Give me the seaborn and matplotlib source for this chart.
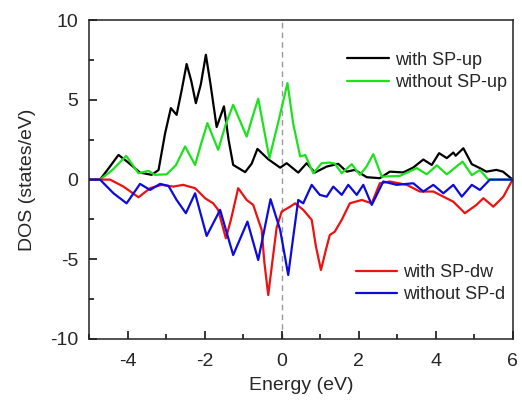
import numpy as np
import pandas as pd
import seaborn as sns
import matplotlib
matplotlib.use("Agg")
import matplotlib.pyplot as plt
from matplotlib.ticker import MultipleLocator

# DOS curves
up_with_e = [-5, -4.72, -4.5, -4.24, -4.0, -3.68, -3.38, -3.2, -3.03, -2.88, -2.73, -2.6, -2.47,
             -2.35, -2.23, -2.1, -1.97, -1.85, -1.69, -1.5, -1.38, -1.26, -0.95, -0.78, -0.63,
             -0.35, -0.04, 0.13, 0.43, 0.65, 0.86, 1.17, 1.47, 1.69, 1.9, 2.21, 2.55, 2.81,
             3.16, 3.42, 3.68, 3.9, 4.09, 4.29, 4.46, 4.52, 4.72, 4.94, 5.15, 5.32, 5.58, 5.75, 6.0]
up_with = [0, 0, 0.7, 1.55, 1.1, 0.44, 0.3, 0.6, 2.9, 4.49, 4.07, 5.6, 7.26,
           6.2, 4.8, 6.0, 7.84, 6.0, 3.3, 4.6, 2.5, 0.92, 0.47, 1.0, 1.93,
           1.28, 0.75, 1.03, 0.44, 1.03, 0.44, 0.82, 0.99, 0.5, 0.61, 0.15, 0.09, 0.5,
           0.45, 0.76, 1.26, 0.92, 1.66, 1.35, 1.7, 1.5, 1.97, 0.97, 0.72, 0.5, 0.61, 0.5, 0.0]

up_without_e = [-5, -4.72, -4.4, -4.04, -3.72, -3.46, -3.3, -2.99, -2.75, -2.51, -2.25, -2.1,
                -1.93, -1.65, -1.45, -1.26, -0.91, -0.75, -0.61, -0.32, -0.1, 0.15, 0.3, 0.48,
                0.61, 0.82, 1.04, 1.25, 1.38, 1.56, 1.82, 2.03, 2.2, 2.38, 2.6, 3.07, 3.51,
                3.77, 4.03, 4.29, 4.70, 4.94, 5.15, 5.37, 6.0]
up_without = [0, 0, 0.6, 1.49, 0.4, 0.55, 0.3, 0.33, 0.9, 2.08, 0.92, 2.2,
              3.55, 1.87, 3.5, 4.7, 2.7, 4.0, 5.08, 1.35, 3.5, 6.06, 3.5, 1.45,
              1.55, 0.4, 1.03, 1.07, 1.0, 0.4, 0.97, 0.3, 0.8, 1.6, 0.19, 0.23, 0.72,
              0.33, 0.9, 0.33, 1.13, 0.28, 0.6, 0.0, 0.0]

dw_with_e = [-5, -4.46, -4.11, -3.72, -3.42, -3.12, -2.82, -2.56, -2.25, -1.99, -1.78, -1.65,
             -1.45, -1.32, -1.13, -0.91, -0.74, -0.52, -0.45, -0.35, -0.25, -0.13, 0.0, 0.22,
             0.35, 0.56, 0.78, 0.89, 1.02, 1.15, 1.25, 1.38, 1.56, 1.77, 2.08, 2.34, 2.55,
             2.81, 3.25, 3.59, 3.94, 4.2, 4.46, 4.76, 5.06, 5.24, 5.5, 5.76, 6.0]
dw_with = [0, 0, -0.44, -1.11, -0.54, -0.33, -0.44, -0.33, -0.54, -1.17, -1.49, -1.9,
           -3.69, -2.53, -0.54, -1.28, -1.59, -3.16, -5.2, -7.25, -5.3, -3.0, -2.01, -1.7,
           -1.49, -1.9, -2.53, -4.2, -5.68, -4.4, -3.48, -3.27, -2.53, -1.49, -1.28, -1.49, -0.23,
           -0.12, -0.33, -0.75, -0.75, -1.07, -1.39, -2.11, -1.59, -1.17, -1.7, -1.07, 0.0]

dw_without_e = [-5, -4.72, -4.37, -4.03, -3.68, -3.42, -3.16, -2.94, -2.73, -2.49, -2.25, -1.95,
                -1.6, -1.26, -0.89, -0.61, -0.29, -0.04, 0.17, 0.3, 0.43, 0.56, 0.78, 0.99,
                1.17, 1.34, 1.56, 1.73, 1.95, 2.12, 2.34, 2.64, 2.99, 3.42, 3.68, 3.94, 4.2,
                4.46, 4.68, 4.94, 5.15, 5.41, 6.0]
dw_without = [0, 0, -0.86, -1.49, -0.27, -0.65, -0.27, -0.4, -1.28, -2.11, -0.86, -3.54,
              -1.9, -4.74, -2.64, -5.05, -1.23, -3.16, -5.99, -3.6, -1.28, -1.49, -0.33, -0.96,
              -1.07, -0.44, -0.96, -0.33, -0.96, -0.33, -1.59, -0.12, -0.33, -0.23, -0.75, -0.33, -0.86,
              -0.33, -1.07, -0.33, -0.65, 0.0, 0.0]

labels = ["with SP-up", "without SP-up", "with SP-dw", "without SP-d"]
colors = ["#000000", "#1ee11e", "#ee1111", "#0b0bdd"]

sns.set_style("ticks")
plt.rcParams['font.family'] = ['Liberation Sans', 'DejaVu Sans']
plt.rcParams['axes.unicode_minus'] = False

fig = plt.figure(figsize=(5.22, 4.0), dpi=100)
ax = fig.add_axes([0.171, 0.153, 0.811, 0.796])

series = [(up_with_e, up_with), (up_without_e, up_without),
          (dw_with_e, dw_with), (dw_without_e, dw_without)]
lines = []
for (e, d), lab, col in zip(series, labels, colors):
    sns.lineplot(x=e, y=d, ax=ax, color=col, lw=1.6, label=lab, sort=False)
    lines.append(ax.lines[-1])

ax.axvline(0, color="#999999", lw=1.0, ls=(0, (4, 3)), zorder=0)

ax.set_xlim(-5, 6)
ax.set_ylim(-10, 10)
ax.xaxis.set_major_locator(MultipleLocator(2))
ax.xaxis.set_minor_locator(MultipleLocator(1))
ax.yaxis.set_major_locator(MultipleLocator(5))
ax.yaxis.set_minor_locator(MultipleLocator(2.5))
ax.tick_params(which="both", direction="in", labelsize=14, width=1.1, color="black")
ax.tick_params(which="major", length=6)
ax.tick_params(which="minor", length=3.5)
ax.tick_params(axis="x", pad=10)
ax.tick_params(axis="y", pad=8)
for s in ax.spines.values():
    s.set_linewidth(1.1)
    s.set_color("#222222")

ax.set_xlabel("Energy (eV)", fontsize=14, labelpad=5)
ax.set_ylabel("DOS (states/eV)", fontsize=14, labelpad=10)

ax.get_legend().remove()
leg1 = ax.legend(lines[:2], labels[:2], loc="upper left", bbox_to_anchor=(0.592, 0.925),
                 frameon=False, fontsize=13, handlelength=2.3, handletextpad=0.35,
                 labelspacing=0.3, borderaxespad=0)
ax.add_artist(leg1)
ax.legend(lines[2:], labels[2:], loc="upper left", bbox_to_anchor=(0.612, 0.258),
          frameon=False, fontsize=13, handlelength=2.3, handletextpad=0.35,
          labelspacing=0.3, borderaxespad=0)

fig.savefig("out.png", dpi=100)
